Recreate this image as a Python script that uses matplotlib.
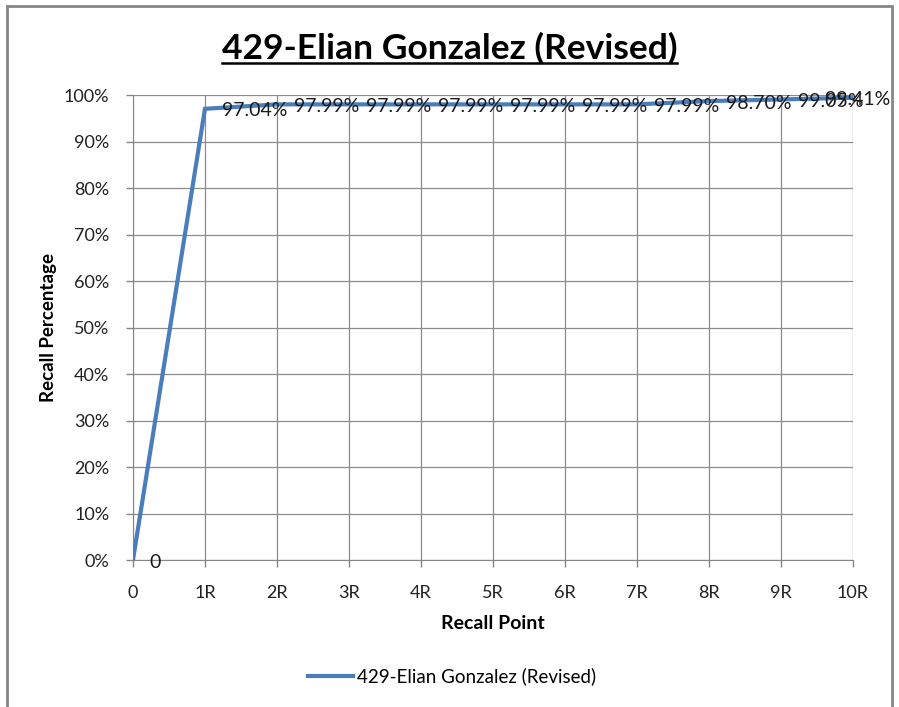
import matplotlib
matplotlib.use("Agg")
import matplotlib.pyplot as plt
from matplotlib.lines import Line2D

plt.rcParams['font.family'] = ['Lato', 'DejaVu Sans']

title = "429-Elian Gonzalez (Revised)"
points = ["0", "1R", "2R", "3R", "4R", "5R", "6R", "7R", "8R", "9R", "10R"]
recall = [0, 97.04, 97.99, 97.99, 97.99, 97.99, 97.99, 97.99, 98.70, 99.05, 99.41]
labels = ["0", "97.04%", "97.99%", "97.99%", "97.99%", "97.99%", "97.99%",
          "97.99%", "98.70%", "99.05%", "99.41%"]

fig = plt.figure(figsize=(8.99, 7.07), dpi=100)
ax = fig.add_axes([0.1479, 0.2079, 0.8009, 0.6577])

x = list(range(len(points)))
line_color = "#4A7EBB"
ax.plot(x, recall, color=line_color, lw=3, solid_joinstyle="miter",
        label=title, zorder=3)

for i, (v, lab) in enumerate(zip(recall, labels)):
    dx = 12 if i < len(points) - 1 else -20
    ax.annotate(lab, (i, v), xytext=(dx, -1.5), textcoords="offset points",
                ha="left", va="center", fontsize=14, color="#1a1a1a",
                zorder=4)

ax.set_xlim(0, 10)
ax.set_ylim(0, 100)
ax.set_xticks(x)
ax.set_xticklabels(points)
ax.set_yticks(range(0, 101, 10))
ax.set_yticklabels([f"{v}%" for v in range(0, 101, 10)])
ax.tick_params(labelsize=13, colors="#868686", length=5, width=1,
               labelcolor="#222222")
ax.tick_params(axis="x", pad=13)
ax.tick_params(axis="y", pad=12)
ax.grid(True, color="#8c8c8c", lw=0.9)
ax.set_axisbelow(True)
for s in ["top", "right"]:
    ax.spines[s].set_visible(False)
for s in ["left", "bottom"]:
    ax.spines[s].set_color("#868686")

ax.set_xlabel("Recall Point", fontsize=14, fontweight="bold", labelpad=10)
ax.set_ylabel("Recall Percentage", fontsize=13.5, fontweight="bold", labelpad=5)

t = fig.text(0.5, 0.932, title, ha="center", va="center", fontsize=25.5,
             fontweight="bold")
fig.canvas.draw()
bb = t.get_window_extent().transformed(fig.transFigure.inverted())
fig.add_artist(Line2D([bb.x0, bb.x1], [bb.y0 + 0.002, bb.y0 + 0.002],
                      transform=fig.transFigure, color="black", lw=1.8))

fig.legend(handles=[Line2D([], [], color=line_color, lw=3)], labels=[title],
           loc="center", bbox_to_anchor=(0.503, 0.043), frameon=False,
           fontsize=13.5, handlelength=2.4, handletextpad=0.2)

# chart border
fig.add_artist(plt.Rectangle((0.008, -0.05), 0.984, 1.041,
                             transform=fig.transFigure, fill=False,
                             edgecolor="#868686", lw=2))

fig.savefig("out.png", dpi=100)
